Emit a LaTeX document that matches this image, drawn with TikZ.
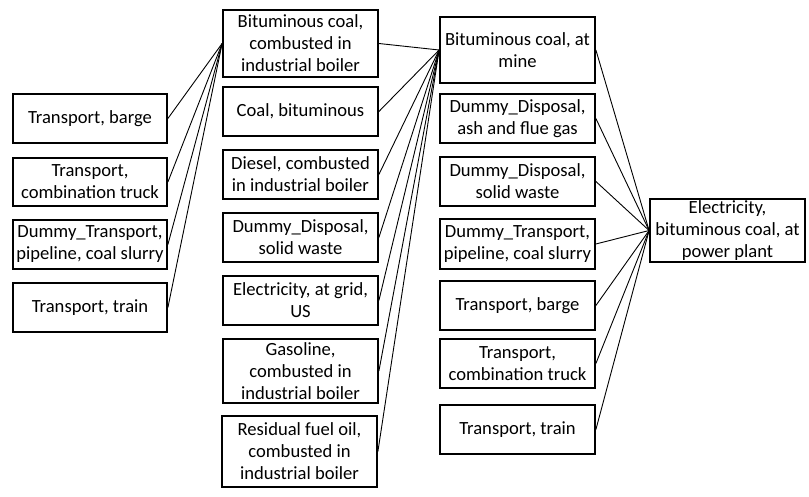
\documentclass[tikz,border=0pt]{standalone}
\usepackage{fontspec}
\setmainfont{Carlito}
\begin{document}
\begin{tikzpicture}[x=1pt,y=-1pt,
  box/.style={draw,line width=1.8pt,inner sep=0pt,align=center,minimum width=155pt,minimum height=49pt,font=\fontsize{18.6}{22}\selectfont},
  link/.style={line width=0.9pt}]
\useasboundingbox (0,0) rectangle (809,497);
% left column
\node[box,minimum width=154pt] (lb) at (90,118.5) {Transport, barge};
\node[box,minimum width=154pt,minimum height=48pt] (lc) at (90,182) {Transport,\\combination truck};
\node[box,minimum width=154pt] (lp) at (90,244.5) {Dummy\_Transport,\\pipeline, coal slurry};
\node[box,minimum width=154pt] (lt) at (90,307.5) {Transport, train};
% second column
\node[box,minimum height=67pt] (c1) at (300.5,43.5) {Bituminous coal,\\combusted in\\industrial boiler};
\node[box] (c2) at (300.5,111.5) {Coal, bituminous};
\node[box] (c3) at (300.5,174.5) {Diesel, combusted\\in industrial boiler};
\node[box] (c4) at (300.5,237.5) {Dummy\_Disposal,\\solid waste};
\node[box] (c5) at (300.5,300.5) {Electricity, at grid,\\US};
\node[box,minimum height=64pt] (c6) at (300.5,371) {Gasoline,\\combusted in\\industrial boiler};
\node[box,minimum height=71pt] (c7) at (299.5,451.5) {Residual fuel oil,\\combusted in\\industrial boiler};
% third column
\node[box,minimum height=66pt] (m1) at (517.5,50) {Bituminous coal, at\\mine};
\node[box] (m2) at (517.5,118.5) {Dummy\_Disposal,\\ash and flue gas};
\node[box] (m3) at (517.5,181.5) {Dummy\_Disposal,\\solid waste};
\node[box,minimum height=50pt] (m4) at (517.5,244) {Dummy\_Transport,\\pipeline, coal slurry};
\node[box] (m5) at (517.5,305.5) {Transport, barge};
\node[box] (m6) at (517.5,363.5) {Transport,\\combination truck};
\node[box] (m7) at (517.5,429.5) {Transport, train};
% final
\node[box,minimum height=63pt] (p) at (727.5,230.5) {Electricity,\\bituminous coal, at\\power plant};
% links
\foreach \n in {lb,lc,lp,lt} \draw[link] (\n.east) -- (c1.west);
\foreach \n in {c1,c2,c3,c4,c5,c6,c7} \draw[link] (\n.east) -- (m1.west);
\foreach \n in {m1,m2,m3,m4,m5,m6,m7} \draw[link] (\n.east) -- (p.west);
\end{tikzpicture}
\end{document}
